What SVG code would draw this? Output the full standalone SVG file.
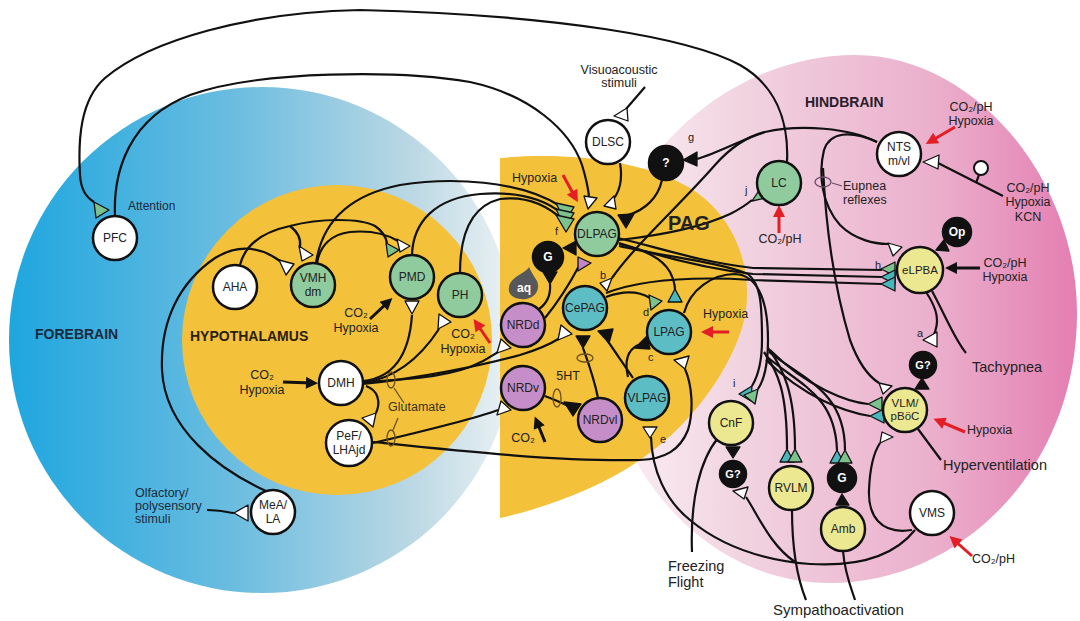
<svg xmlns="http://www.w3.org/2000/svg" width="1080" height="621" viewBox="0 0 1080 621">
<defs>
<linearGradient id="gFore" gradientUnits="userSpaceOnUse" x1="8" y1="0" x2="515" y2="0">
<stop offset="0" stop-color="#1ea6df"/><stop offset="0.45" stop-color="#6cbde0"/><stop offset="0.8" stop-color="#bcd8e4"/><stop offset="1" stop-color="#edf3f5"/>
</linearGradient>
<linearGradient id="gHind" gradientUnits="userSpaceOnUse" x1="600" y1="0" x2="1078" y2="0">
<stop offset="0" stop-color="#fbf2f6"/><stop offset="0.3" stop-color="#f1d3e0"/><stop offset="0.7" stop-color="#ebafcc"/><stop offset="1" stop-color="#e47eb1"/>
</linearGradient>
<marker id="mr" viewBox="0 0 10 10" refX="5" refY="5" markerWidth="4.5" markerHeight="4" orient="auto"><path d="M0,0 L10,5 L0,10 Z" fill="#e31e24"/></marker>
<marker id="mb" viewBox="0 0 10 10" refX="5" refY="5" markerWidth="4.5" markerHeight="4" orient="auto"><path d="M0,0 L10,5 L0,10 Z" fill="#111"/></marker>
<style>
.t{font-family:"Liberation Sans",Arial,"DejaVu Sans",sans-serif;fill:#222}
.nl{font-size:12px;text-anchor:middle}
.wt{fill:#fff}
.n{stroke:#111;stroke-width:2.5}
.w{fill:#fff}.gr{fill:#8fcb9d}.te{fill:#5cbec4}.pu{fill:#c58ec8}.ye{fill:#ece791}.bk{fill:#111}
#connectors path{fill:none;stroke:#111;stroke-width:2.2}
.tri{stroke:#111;stroke-width:1.3;stroke-linejoin:round}
.tw{fill:#fff}.tg{fill:#7cc28f}.tt{fill:#48b6ba}.tp{fill:#c285c6}.tb{fill:#111}
.ar{stroke:#e31e24;stroke-width:3;fill:none;marker-end:url(#mr)}
.ab{stroke:#111;stroke-width:3;fill:none;marker-end:url(#mb)}
.loop{fill:none;stroke:#6a5020;stroke-width:1.3}
.lb{font-size:12.5px}
.big{font-size:14.5px}
.sm{font-size:11px}
</style>
</defs>

<g id="regions">
<circle cx="262" cy="340" r="253" fill="url(#gFore)"/>
<circle cx="337" cy="340" r="155" fill="#f3c13a"/>
<path d="M855,55 C975,55 1078,180 1077,315 C1076,470 960,583 830,583 C700,583 600,460 598,320 C596,175 720,55 855,55 Z" fill="url(#gHind)"/>
<path d="M500,158 C560,152 640,158 690,188 C732,214 752,262 746,310 C740,352 702,418 640,460 C600,488 545,508 500,518 Z" fill="#f3c13a"/>
</g>

<g id="connectors">
<path d="M787,162 C789,120 775,85 740,65 C690,38 560,15 360,10 C250,12 150,40 105,78 C80,100 78,140 80,175 C81,190 86,197 94,202"/>
<path d="M115,216 C113,170 130,118 190,95 C260,70 400,70 470,82 C530,95 570,130 582,165 C586,178 588,188 589,196"/>
<path d="M645,87 L626,109"/>
<path d="M620,163 C623,180 619,192 614,198"/>
<path d="M662,180 C658,198 645,210 628,215"/>
<path d="M207,510 C218,510 226,512 234,513"/>
<path d="M266,491 C220,470 165,430 162,370 C160,320 180,282 215,258 C240,243 262,248 280,261"/>
<path d="M240,265 C245,245 262,232 290,226 C320,218 360,218 375,226 C384,232 386,238 387,243"/>
<path d="M290,226 C298,232 301,240 300,247"/>
<path d="M317,263 C320,245 332,234 350,232 C372,230 388,235 398,241"/>
<path d="M316,263 C322,222 350,195 400,185 C450,177 520,180 560,206"/>
<path d="M412,255 C413,222 435,198 480,194 C520,191 545,200 561,213"/>
<path d="M460,273 C460,232 472,206 500,199 C530,195 550,208 563,220"/>
<path d="M363,381 C392,378 409,358 412,315"/>
<path d="M363,383 C397,378 422,355 439,329"/>
<path d="M363,382 C400,380 440,378 470,367 C485,361 492,356 498,352"/>
<path d="M363,384 C420,378 480,366 520,355 C540,349 552,343 560,338"/>
<path d="M366,386 C378,390 381,402 376,413"/>
<path d="M373,443 C420,432 470,420 498,410"/>
<path d="M373,442 C450,450 560,462 640,460 C665,459 680,450 688,430 C694,410 692,385 685,369"/>
<path d="M550,284 C551,296 546,304 539,309"/>
<path d="M545,318 C558,302 570,283 579,266"/>
<path d="M877,142 C850,128 800,124 765,132 C745,137 730,148 715,165 C680,205 635,245 612,278"/>
<path d="M697,159 C720,152 745,138 765,132"/>
<path d="M619,240 C655,236 700,228 730,214 C740,209 746,205 752,200"/>
<path d="M618,238 C660,248 700,262 753,268 L882,270"/>
<path d="M619,243 C655,255 700,268 753,274 L882,277"/>
<path d="M606,293 C640,280 690,276 753,280 L882,284"/>
<path d="M619,246 C660,256 720,262 748,274 C760,284 762,300 762,340"/>
<path d="M684,313 C690,290 712,274 735,274 C755,275 768,295 768,340"/>
<path d="M762,340 C762,362 758,376 752,386"/>
<path d="M768,340 C768,365 764,380 758,389"/>
<path d="M764,352 C778,372 787,392 787,449"/>
<path d="M768,348 C783,368 795,392 795,449"/>
<path d="M766,356 C800,385 835,395 837,450"/>
<path d="M769,352 C805,380 845,392 845,450"/>
<path d="M766,360 C805,398 845,412 870,416"/>
<path d="M770,350 C808,388 848,402 868,404"/>
<path d="M606,297 C625,290 640,292 650,298"/>
<path d="M619,244 C645,250 662,258 670,272 C674,280 675,285 675,290"/>
<path d="M633,378 C622,362 614,350 607,340"/>
<path d="M628,377 C624,360 628,350 638,345"/>
<path d="M598,398 C594,378 588,362 583,348"/>
<path d="M545,396 C555,400 563,403 570,407"/>
<path d="M651,437 C652,470 665,500 690,520 C720,545 760,560 810,564 C860,567 895,555 915,530"/>
<path d="M746,497 C758,515 770,545 795,562"/>
<path d="M912,530 C880,535 868,515 869,490 C870,465 874,452 880,443"/>
<path d="M877,142 C850,130 830,132 824,150 C818,175 822,205 840,225 C855,240 875,244 888,244"/>
<path d="M823,168 C826,230 835,290 850,340 C858,362 868,376 879,383"/>
<path d="M938,163 L1003,196"/>
<path d="M979,175 L976,183"/>
<path d="M926,292 C938,310 940,322 933,337"/>
<path d="M932,291 C945,315 955,340 966,353"/>
<path d="M918,429 L941,460"/>
<path d="M718,438 C700,460 690,500 692,552"/>
<path d="M792,510 C792,560 800,585 806,600"/>
<path d="M843,551 C845,575 852,590 855,600"/>
<path d="M832,183 L842,186" style="stroke:#6a4a6a;stroke-width:1.2"/>
</g>

<g id="loops">
<ellipse class="loop" cx="391" cy="380" rx="4" ry="8"/>
<ellipse class="loop" cx="391" cy="438" rx="4" ry="8"/>
<path class="loop" d="M394,388 L404,403 M393,430 L398,418"/>
<ellipse class="loop" cx="585" cy="358" rx="8" ry="4"/>
<ellipse class="loop" cx="557" cy="398" rx="4" ry="9"/>
<ellipse class="loop" cx="823" cy="182" rx="8" ry="5" style="stroke:#6a4a6a"/>
</g>

<g id="terminals">
<polygon class="tri tg" points="94,202 96,218 109,210"/>
<polygon class="tri tw" points="234,513 248,505 248,521"/>
<polygon class="tri tg" points="386,243 388,257 399,250"/>
<polygon class="tri tw" points="397,239 400,252 410,246"/>
<polygon class="tri tw" points="279,260 294,264 286,275"/>
<polygon class="tri tw" points="299,246 313,255 302,261"/>
<polygon class="tri tg" points="556,203 574,207 565,222"/>
<polygon class="tri tg" points="556,209 574,213 565,228"/>
<polygon class="tri tg" points="556,215 574,219 566,232"/>
<polygon class="tri tw" points="584,196 597,198 588,209"/>
<polygon class="tri tw" points="614,196 616,209 604,206"/>
<polygon class="tri tw" points="627,108 628,121 614,116"/>
<polygon class="tri tb" points="618,215 634,214 626,228"/>
<polygon class="tri tb" points="683,160 697,152 697,166"/>
<polygon class="tri tw" points="405,301 419,301 412,314"/>
<polygon class="tri tw" points="438,329 439,314 451,322"/>
<polygon class="tri tw" points="497,353 501,339 511,348"/>
<polygon class="tri tw" points="558,340 561,325 572,334"/>
<polygon class="tri tw" points="376,413 362,418 373,427"/>
<polygon class="tri tw" points="497,415 501,401 511,410"/>
<polygon class="tri tw" points="685,369 674,360 689,356"/>
<polygon class="tri tb" points="563,248 576,241 576,255"/>
<polygon class="tri tb" points="543,272 557,272 550,284"/>
<polygon class="tri tp" points="578,257 591,263 578,271"/>
<polygon class="tri tw" points="612,278 600,283 607,291"/>
<polygon class="tri tg" points="752,201 762,186 770,197"/>
<polygon class="tri tg" points="649,295 662,301 651,310"/>
<polygon class="tri tt" points="668,302 682,302 675,289"/>
<polygon class="tri tb" points="598,331 613,329 609,343"/>
<polygon class="tri tb" points="635,348 647,336 650,349"/>
<polygon class="tri tb" points="576,336 590,336 583,348"/>
<polygon class="tri tb" points="564,402 581,404 573,416"/>
<polygon class="tri tw" points="643,427 657,427 650,438"/>
<polygon class="tri tg" points="881,269 895,262 895,276"/>
<polygon class="tri tt" points="881,277 895,270 895,284"/>
<polygon class="tri tt" points="881,284 895,277 895,291"/>
<polygon class="tri tw" points="888,243 902,247 893,256"/>
<polygon class="tri tw" points="923,162 939,155 938,169"/>
<polygon class="tri tb" points="936,250 944,240 949,251"/>
<polygon class="tri tw" points="923,340 937,332 937,347"/>
<polygon class="tri tb" points="915,389 929,389 922,378"/>
<polygon class="tri tw" points="879,383 892,386 883,394"/>
<polygon class="tri tw" points="880,443 882,432 893,437"/>
<polygon class="tri tg" points="868,404 882,397 882,411"/>
<polygon class="tri tt" points="870,416 884,409 884,423"/>
<polygon class="tri tt" points="752,386 739,394 751,401"/>
<polygon class="tri tg" points="758,389 744,395 755,404"/>
<polygon class="tri tt" points="787,449 780,462 794,462"/>
<polygon class="tri tg" points="795,449 788,462 802,462"/>
<polygon class="tri tt" points="837,450 830,463 844,463"/>
<polygon class="tri tg" points="845,450 838,463 852,463"/>
<polygon class="tri tb" points="726,447 740,447 733,458"/>
<polygon class="tri tw" points="733,491 748,487 744,499"/>
<polygon class="tri tb" points="836,505 849,505 842,494"/>
</g>

<g id="arrows">
<line class="ar" x1="563" y1="175" x2="575" y2="197"/>
<line class="ar" x1="490" y1="343" x2="477" y2="324"/>
<line class="ar" x1="729" y1="332" x2="707" y2="332"/>
<line class="ar" x1="779" y1="233" x2="779" y2="211"/>
<line class="ar" x1="955" y1="127" x2="931" y2="141"/>
<line class="ar" x1="965" y1="432" x2="939" y2="421"/>
<line class="ar" x1="972" y1="556" x2="954" y2="540"/>
<line class="ab" x1="370" y1="319" x2="388" y2="302"/>
<line class="ab" x1="283" y1="382" x2="312" y2="383"/>
<line class="ab" x1="545" y1="442" x2="537" y2="422"/>
<line class="ab" x1="980" y1="268" x2="951" y2="268"/>
</g>

<g id="nodes">
<g id="n-PFC"><circle class="n w" cx="115" cy="238" r="22"/><text class="t nl" x="115" y="242">PFC</text></g>
<g id="n-AHA"><circle class="n w" cx="235" cy="287" r="22"/><text class="t nl" x="235" y="291">AHA</text></g>
<g id="n-VMH"><circle class="n gr" cx="313" cy="285" r="22"/><text class="t nl" x="313" y="282">VMH</text><text class="t nl" x="313" y="296">dm</text></g>
<g id="n-PMD"><circle class="n gr" cx="412" cy="277" r="22"/><text class="t nl" x="412" y="281">PMD</text></g>
<g id="n-PH"><circle class="n gr" cx="460" cy="295" r="22"/><text class="t nl" x="460" y="299">PH</text></g>
<g id="n-DMH"><circle class="n w" cx="341" cy="383" r="22"/><text class="t nl" x="341" y="387">DMH</text></g>
<g id="n-PeF"><circle class="n w" cx="349" cy="443" r="23"/><text class="t nl" x="349" y="440">PeF/</text><text class="t nl" x="349" y="454">LHAjd</text></g>
<g id="n-MeA"><circle class="n w" cx="273" cy="512" r="22"/><text class="t nl" x="273" y="509">MeA/</text><text class="t nl" x="273" y="523">LA</text></g>
<g id="n-DLSC"><circle class="n w" cx="608" cy="142" r="22"/><text class="t nl" x="608" y="146">DLSC</text></g>
<g id="n-Q"><circle class="n bk" cx="666" cy="163" r="17"/><text class="t nl wt" x="666" y="167" style="font-weight:bold">?</text></g>
<g id="n-DLPAG"><circle class="n gr" cx="597" cy="234" r="22"/><text class="t nl" x="597" y="238">DLPAG</text></g>
<g id="n-G1"><circle class="n bk" cx="548" cy="257" r="15"/><text class="t nl wt" x="548" y="261" style="font-weight:bold">G</text></g>
<g id="n-aq"><path d="M529,267 C525,274 511,276 509,287 C507,297 518,300 526,299 C537,297 540,288 537,281 C534,276 531,272 529,267 Z" fill="#57585c"/><text class="t nl wt" x="524" y="292" style="font-weight:bold">aq</text></g>
<g id="n-NRDd"><circle class="n pu" cx="523" cy="325" r="22"/><text class="t nl" x="523" y="329">NRDd</text></g>
<g id="n-CePAG"><circle class="n te" cx="585" cy="308" r="22"/><text class="t nl" x="585" y="312">CePAG</text></g>
<g id="n-LPAG"><circle class="n te" cx="669" cy="332" r="22"/><text class="t nl" x="669" y="336">LPAG</text></g>
<g id="n-NRDv"><circle class="n pu" cx="523" cy="388" r="22"/><text class="t nl" x="523" y="392">NRDv</text></g>
<g id="n-NRDvl"><circle class="n pu" cx="600" cy="420" r="22"/><text class="t nl" x="600" y="424">NRDvl</text></g>
<g id="n-VLPAG"><circle class="n te" cx="647" cy="398" r="22"/><text class="t nl" x="647" y="402">VLPAG</text></g>
<g id="n-LC"><circle class="n gr" cx="779" cy="183" r="22"/><text class="t nl" x="779" y="187">LC</text></g>
<g id="n-NTS"><circle class="n w" cx="899" cy="154" r="22"/><text class="t nl" x="899" y="151">NTS</text><text class="t nl" x="899" y="165">m/vl</text></g>
<g id="n-stim"><circle class="n w" cx="981" cy="168" r="7" style="stroke-width:2"/></g>
<g id="n-Op"><circle class="n bk" cx="957" cy="232" r="14"/><text class="t nl wt" x="957" y="236" style="font-weight:bold">Op</text></g>
<g id="n-eLPBA"><circle class="n ye" cx="920" cy="270" r="23"/><text class="t nl" x="920" y="274" style="font-size:11.5px">eLPBA</text></g>
<g id="n-G2"><circle class="n bk" cx="923" cy="365" r="13"/><text class="t nl wt" x="923" y="369" style="font-weight:bold;font-size:11px">G?</text></g>
<g id="n-VLM"><circle class="n ye" cx="905" cy="410" r="22"/><text class="t nl" x="905" y="407" style="font-size:11.5px">VLM/</text><text class="t nl" x="905" y="420" style="font-size:11.5px">pBöC</text></g>
<g id="n-CnF"><circle class="n ye" cx="731" cy="423" r="22"/><text class="t nl" x="731" y="427">CnF</text></g>
<g id="n-G3"><circle class="n bk" cx="733" cy="474" r="13"/><text class="t nl wt" x="733" y="478" style="font-weight:bold;font-size:11px">G?</text></g>
<g id="n-RVLM"><circle class="n ye" cx="791" cy="488" r="22"/><text class="t nl" x="791" y="492">RVLM</text></g>
<g id="n-G4"><circle class="n bk" cx="842" cy="478" r="14"/><text class="t nl wt" x="842" y="482" style="font-weight:bold">G</text></g>
<g id="n-Amb"><circle class="n ye" cx="843" cy="529" r="22"/><text class="t nl" x="843" y="533">Amb</text></g>
<g id="n-VMS"><circle class="n w" cx="932" cy="513" r="22"/><text class="t nl" x="932" y="517">VMS</text></g>
</g>

<g id="labels">
<text class="t" x="35" y="339" style="font-size:14px;font-weight:bold;fill:#1c2b3c">FOREBRAIN</text>
<text class="t" x="190" y="341" style="font-size:14px;font-weight:bold;fill:#2a2010">HYPOTHALAMUS</text>
<text class="t" x="668" y="230" style="font-size:20px;font-weight:bold">PAG</text>
<text class="t" x="805" y="107" style="font-size:14px;font-weight:bold;fill:#2b1d2b">HINDBRAIN</text>
<text class="t" x="128" y="210" style="font-size:12px;fill:#1c2b3c">Attention</text>
<text class="t lb" x="619" y="74" text-anchor="middle">Visuoacoustic</text>
<text class="t lb" x="619" y="87" text-anchor="middle">stimuli</text>
<text class="t lb" x="135" y="497" style="fill:#1c2b3c">Olfactory/</text>
<text class="t lb" x="135" y="510" style="fill:#1c2b3c">polysensory</text>
<text class="t lb" x="135" y="523" style="fill:#1c2b3c">stimuli</text>
<text class="t lb" x="388" y="411" style="fill:#3d3220">Glutamate</text>
<text class="t lb" x="512" y="182">Hypoxia</text>
<text class="t lb" x="356" y="317" text-anchor="middle">CO₂</text>
<text class="t lb" x="356" y="332" text-anchor="middle">Hypoxia</text>
<text class="t lb" x="463" y="338" text-anchor="middle">CO₂</text>
<text class="t lb" x="463" y="353" text-anchor="middle">Hypoxia</text>
<text class="t lb" x="262" y="379" text-anchor="middle">CO₂</text>
<text class="t lb" x="262" y="394" text-anchor="middle">Hypoxia</text>
<text class="t lb" x="523" y="442" text-anchor="middle">CO₂</text>
<text class="t lb" x="568" y="380" text-anchor="middle">5HT</text>
<text class="t lb" x="703" y="318">Hypoxia</text>
<text class="t lb" x="780" y="243" text-anchor="middle">CO₂/pH</text>
<text class="t lb" x="843" y="190">Eupnea</text>
<text class="t lb" x="843" y="204">reflexes</text>
<text class="t lb" x="971" y="111" text-anchor="middle">CO₂/pH</text>
<text class="t lb" x="971" y="125" text-anchor="middle">Hypoxia</text>
<text class="t lb" x="1028" y="192" text-anchor="middle">CO₂/pH</text>
<text class="t lb" x="1028" y="206" text-anchor="middle">Hypoxia</text>
<text class="t lb" x="1028" y="221" text-anchor="middle">KCN</text>
<text class="t lb" x="1005" y="267" text-anchor="middle">CO₂/pH</text>
<text class="t lb" x="1005" y="281" text-anchor="middle">Hypoxia</text>
<text class="t big" x="972" y="372">Tachypnea</text>
<text class="t lb" x="967" y="434">Hypoxia</text>
<text class="t big" x="943" y="470">Hyperventilation</text>
<text class="t lb" x="972" y="563">CO₂/pH</text>
<text class="t" x="773" y="615" style="font-size:15px">Sympathoactivation</text>
<text class="t big" x="668" y="571">Freezing</text>
<text class="t big" x="668" y="587">Flight</text>
<text class="t sm" x="917" y="337">a</text>
<text class="t sm" x="600" y="279">b</text>
<text class="t sm" x="648" y="361">c</text>
<text class="t sm" x="643" y="316">d</text>
<text class="t sm" x="660" y="443">e</text>
<text class="t sm" x="555" y="235">f</text>
<text class="t sm" x="688" y="141">g</text>
<text class="t sm" x="875" y="269">h</text>
<text class="t sm" x="733" y="387">i</text>
<text class="t sm" x="745" y="194">j</text>
</g>
</svg>
